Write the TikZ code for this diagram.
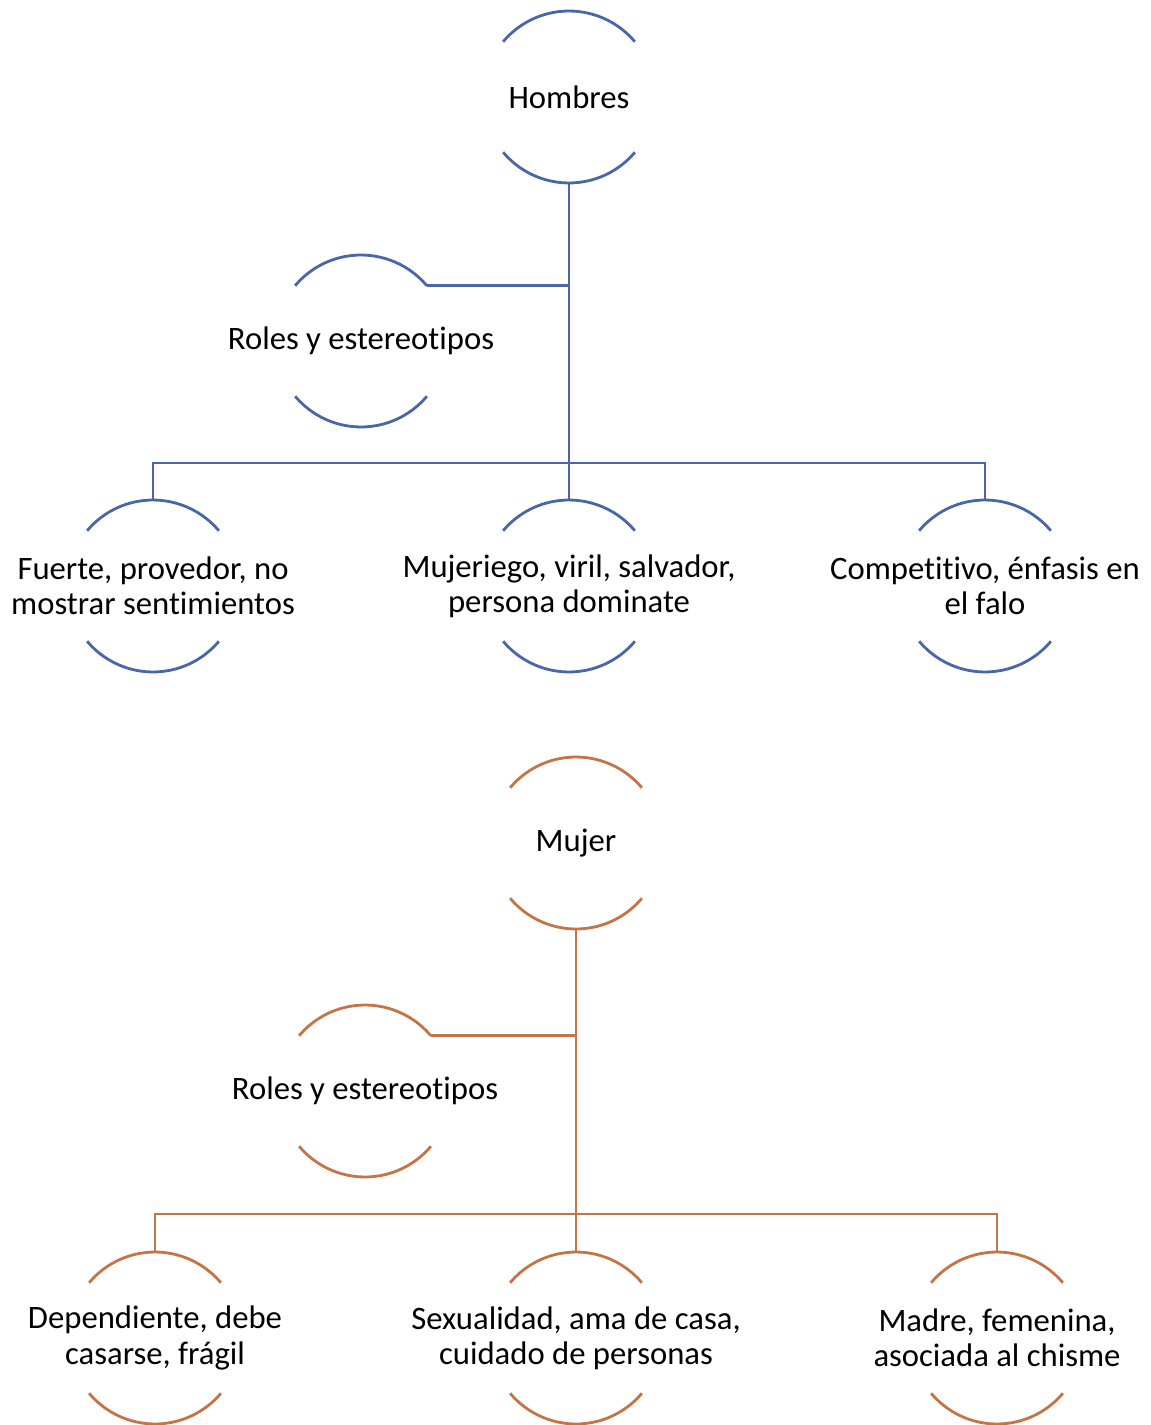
\documentclass[tikz,border=0pt]{standalone}
\usepackage{fontspec}
\setmainfont[Ligatures=NoCommon]{Carlito}
\begin{document}
\begin{tikzpicture}[x=0.02cm,y=-0.02cm,
  ring/.style={draw=none,circle,minimum size=3.44cm,inner sep=0pt,outer sep=0pt},
  lbl/.style={inner sep=0pt,font=\fontsize{18.6}{20}\selectfont,align=center},
  lnb/.style={draw=myblue,line width=1.6pt},
  lno/.style={draw=myorange,line width=1.6pt}]
\definecolor{myblue}{RGB}{72,102,168}
\definecolor{myorange}{RGB}{196,116,70}
\useasboundingbox (0,0) rectangle (1150,1425);
\newcommand{\ringarcs}[2]{%
  \draw[#2] (#1.40) arc[start angle=40,end angle=140,radius=1.72cm];
  \draw[#2] (#1.220) arc[start angle=220,end angle=320,radius=1.72cm];}
% ---- Blue tree
\node[ring] (h) at (569,97) {};
\node[ring] (hr) at (361,341) {};
\node[ring] (h1) at (153,586) {};
\node[ring] (h2) at (569,586) {};
\node[ring] (h3) at (985,586) {};
\node[lbl] (ht) at (h) {Hombres};
\node[lbl] (hrt) at (hr) {Roles y estereotipos};
\node[lbl] (h1t) at (h1) {Fuerte, provedor, no\\mostrar sentimientos};
\node[lbl] (h2t) at (h2) {Mujeriego, viril, salvador,\\persona dominate};
\node[lbl] (h3t) at (h3) {Competitivo, énfasis en\\el falo};
\coordinate (hbar) at (569,463);
\foreach \n in {h,hr,h1,h2,h3}{\ringarcs{\n}{lnb}}
\draw[lnb] (h.south) -- (h2.north);
\draw[lnb] (hr.40) -- (hr.40 -| h.south);
\draw[lnb] (h1.north) |- (hbar) -| (h3.north);
% ---- Orange tree
\node[ring] (m) at (576,843) {};
\node[ring] (mr) at (365,1091) {};
\node[ring] (m1) at (155,1338) {};
\node[ring] (m2) at (576,1338) {};
\node[ring] (m3) at (997,1338) {};
\node[lbl] (mt) at (m) {Mujer};
\node[lbl] (mrt) at (mr) {Roles y estereotipos};
\node[lbl] (m1t) at (m1) {Dependiente, debe\\casarse, frágil};
\node[lbl] (m2t) at (m2) {Sexualidad, ama de casa,\\cuidado de personas};
\node[lbl] (m3t) at (m3) {Madre, femenina,\\asociada al chisme};
\coordinate (mbar) at (576,1214);
\foreach \n in {m,mr,m1,m2,m3}{\ringarcs{\n}{lno}}
\draw[lno] (m.south) -- (m2.north);
\draw[lno] (mr.40) -- (mr.40 -| m.south);
\draw[lno] (m1.north) |- (mbar) -| (m3.north);
\end{tikzpicture}
\end{document}
